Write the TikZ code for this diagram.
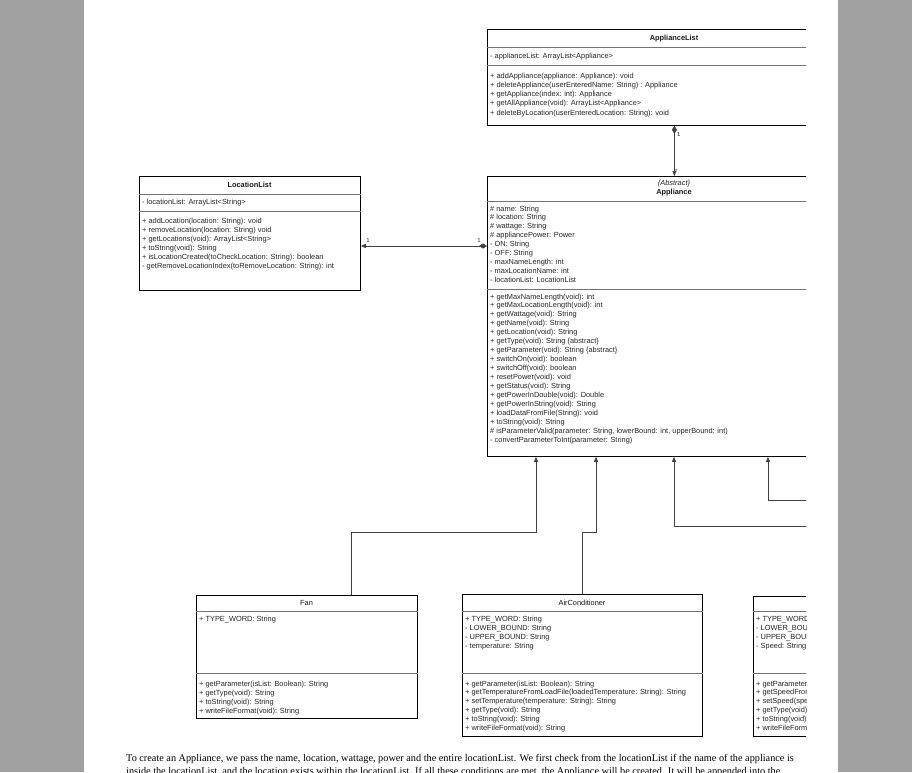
\documentclass[tikz,border=0pt]{standalone}
\usepackage{fontspec}
\setmainfont{Liberation Serif}
\newfontfamily\umlfont{Liberation Sans}
\usetikzlibrary{arrows.meta,calc}
\definecolor{pagegray}{RGB}{160,160,160}
\tikzset{
  umlbox/.style={draw=black, line width=0.8pt, fill=white, rectangle, inner sep=0pt, anchor=north west},
  divider/.style={draw=black!55, line width=0.6pt},
  umltxt/.style={font=\umlfont\fontsize{7.4}{8}\selectfont, inner sep=0pt, anchor=base west, text=black!85},
  umltitle/.style={font=\umlfont\bfseries\fontsize{7.4}{8}\selectfont, inner sep=0pt, anchor=base, text=black!90},
  umlplaintitle/.style={font=\umlfont\fontsize{7.4}{8}\selectfont, inner sep=0pt, anchor=base, text=black!90},
  umlital/.style={font=\umlfont\itshape\fontsize{7.4}{8}\selectfont, inner sep=0pt, anchor=base, text=black!85},
  conn/.style={draw=black!75, line width=0.7pt},
  inh/.style={conn, -{Triangle[width=4pt,length=5pt]}},
  mult/.style={font=\umlfont\fontsize{6}{7}\selectfont, inner sep=0pt, text=black!80},
  paratxt/.style={font=\fontsize{10.25}{13}\selectfont, inner sep=0pt, anchor=base west},
}
\newcommand\umllines[5]{%
  \foreach \umlitem [count=\umli] in {#5} {\node[umltxt] (#1-\umli) at (#2,{#3+(\umli-1)*#4}) {\umlitem};}%
}
\begin{document}
\begin{tikzpicture}[x=1pt,y=-1pt]
\useasboundingbox (0,0) rectangle (912,772);
\clip (0,0) rectangle (912,772);
\fill[pagegray] (0,0) rectangle (912,772);
\fill[white] (84,0) rectangle (838,772);

\begin{scope}
\clip (84,0) rectangle (806,745);

% ---------- ApplianceList
\node[umlbox, minimum width=374pt, minimum height=96pt] (AL) at (487,29) {};
\draw[divider] ($(AL.north west)+(0,18)$) -- ($(AL.north east)+(0,18)$);
\draw[divider] ($(AL.north west)+(0,36)$) -- ($(AL.north east)+(0,36)$);
\node[umltitle] (ALt) at (674,40.5) {ApplianceList};
\umllines{ALa}{490}{58}{9}{{- applianceList: ArrayList<Appliance>}}
\umllines{ALm}{490}{78}{9.25}{%
 {+ addAppliance(appliance: Appliance): void},
 {+ deleteAppliance(userEnteredName: String) : Appliance},
 {+ getAppliance(index: int): Appliance},
 {+ getAllAppliance(void): ArrayList<Appliance>},
 {+ deleteByLocation(userEnteredLocation: String): void}}

% ---------- LocationList
\node[umlbox, minimum width=221pt, minimum height=114pt] (LL) at (139,176) {};
\draw[divider] ($(LL.north west)+(0,18)$) -- ($(LL.north east)+(0,18)$);
\draw[divider] ($(LL.north west)+(0,35)$) -- ($(LL.north east)+(0,35)$);
\node[umltitle] (LLt) at (249.5,187.5) {LocationList};
\umllines{LLa}{142}{204}{9}{{- locationList: ArrayList<String>}}
\umllines{LLm}{142}{223}{9}{%
 {+ addLocation(location: String): void},
 {+ removeLocation(location: String) void},
 {+ getLocations(void): ArrayList<String>},
 {+ toString(void): String},
 {+ isLocationCreated(toCheckLocation: String): boolean},
 {- getRemoveLocationIndex(toRemoveLocation: String): int}}

% ---------- Appliance
\node[umlbox, minimum width=374pt, minimum height=280pt] (APP) at (487,176) {};
\draw[divider] ($(APP.north west)+(0,25)$) -- ($(APP.north east)+(0,25)$);
\draw[divider] ($(APP.north west)+(0,113)$) -- ($(APP.north east)+(0,113)$);
\node[umlital] (APPs) at (674,185.5) {\{Abstract\}};
\node[umltitle] (APPt) at (674,194.5) {Appliance};
\umllines{APPa}{490}{211}{8.9}{%
 {\# name: String},
 {\# location: String},
 {\# wattage: String},
 {\# appliancePower: Power},
 {- ON: String},
 {- OFF: String},
 {- maxNameLength: int},
 {- maxLocationName: int},
 {- locationList: LocationList}}
\umllines{APPm}{490}{299}{8.94}{%
 {+ getMaxNameLength(void): int},
 {+ getMaxLocationLength(void): int},
 {+ getWattage(void): String},
 {+ getName(void): String},
 {+ getLocation(void): String},
 {+ getType(void):  String \{abstract\}},
 {+ getParameter(void): String \{abstract\}},
 {+ switchOn(void): boolean},
 {+ switchOff(void): boolean},
 {+ resetPower(void): void},
 {+ getStatus(void): String},
 {+ getPowerInDouble(void): Double},
 {+ getPowerInString(void): String},
 {+ loadDataFromFile(String): void},
 {+ toString(void): String},
 {\# isParameterValid(parameter: String, lowerBound: int, upperBound: int)},
 {- convertParameterToInt(parameter: String)}}

% ---------- Fan
\node[umlbox, minimum width=221pt, minimum height=123pt] (FAN) at (196,595) {};
\draw[divider] ($(FAN.north west)+(0,16)$) -- ($(FAN.north east)+(0,16)$);
\draw[divider] ($(FAN.north west)+(0,78)$) -- ($(FAN.north east)+(0,78)$);
\node[umlplaintitle] (FANt) at (306.5,605.5) {Fan};
\umllines{FANa}{199}{621}{9}{{+ TYPE\_WORD: String}}
\umllines{FANm}{199}{686}{9}{%
 {+ getParameter(isList: Boolean): String},
 {+ getType(void): String},
 {+ toString(void): String},
 {+ writeFileFormat(void): String}}

% ---------- AirConditioner
\node[umlbox, minimum width=240pt, minimum height=142pt] (AC) at (462,594) {};
\draw[divider] ($(AC.north west)+(0,17)$) -- ($(AC.north east)+(0,17)$);
\draw[divider] ($(AC.north west)+(0,79)$) -- ($(AC.north east)+(0,79)$);
\node[umlplaintitle] (ACt) at (582,605.5) {AirConditioner};
\umllines{ACa}{465}{621}{9}{%
 {+ TYPE\_WORD: String},
 {- LOWER\_BOUND: String},
 {- UPPER\_BOUND: String},
 {- temperature: String}}
\umllines{ACm}{465}{686}{8.8}{%
 {+ getParameter(isList: Boolean): String},
 {+ getTemperatureFromLoadFile(loadedTemperature: String): String},
 {+ setTemperature(temperature: String): String},
 {+ getType(void): String},
 {+ toString(void): String},
 {+ writeFileFormat(void): String}}

% ---------- third subclass (cut off by the page image)
\node[umlbox, minimum width=240pt, minimum height=140pt] (TS) at (753,596) {};
\draw[divider] ($(TS.north west)+(0,15)$) -- ($(TS.north east)+(0,15)$);
\draw[divider] ($(TS.north west)+(0,77)$) -- ($(TS.north east)+(0,77)$);
\umllines{TSa}{756}{621}{9}{%
 {+ TYPE\_WORD: String},
 {- LOWER\_BOUND: String},
 {- UPPER\_BOUND: String},
 {- Speed: String}}
\umllines{TSm}{756}{686}{8.8}{%
 {+ getParameter(isList: Boolean): String},
 {+ getSpeedFromLoadFile(loadedSpeed: String): String},
 {+ setSpeed(speed: String): String},
 {+ getType(void): String},
 {+ toString(void): String},
 {+ writeFileFormat(void): String}}

% ---------- connectors
\draw[conn, {Diamond[width=5pt,length=8pt]}-{Triangle[width=4pt,length=5pt]}] (AL.south) -- (APP.north);
\node[mult, anchor=west] (m1) at (677,134) {1};
\node[mult, anchor=west] (m2) at (675,171) {*};

\draw[conn, {Triangle[width=4pt,length=5pt]}-{Diamond[width=5pt,length=8pt]}] (LL.east |- 0,246) -- (APP.west |- 0,246);
\node[mult] (m3) at (368,240) {1};
\node[mult] (m4) at (479,240) {1};

\draw[inh] ($(FAN.north west)+(155,0)$) -- ++(0,-63) -| ($(APP.south west)+(49,0)$);
\draw[inh] ($(AC.north west)+(120,0)$) -- ++(0,-62) -| ($(APP.south west)+(109,0)$);
\coordinate (offA) at (900,526);
\coordinate (offB) at (900,500);
\draw[inh] (offA) -| ($(APP.south west)+(187,0)$);
\draw[inh] (offB) -| ($(APP.south west)+(281,0)$);
\end{scope}

% ---------- paragraph
\node[paratxt] (para1) at (126,761) {To create an Appliance, we pass the name, location, wattage, power and the entire locationList. We first check from the locationList if the name of the appliance is};
\node[paratxt] (para2) at (126,774) {inside the locationList, and the location exists within the locationList. If all these conditions are met, the Appliance will be created. It will be appended into the};
\end{tikzpicture}
\end{document}
